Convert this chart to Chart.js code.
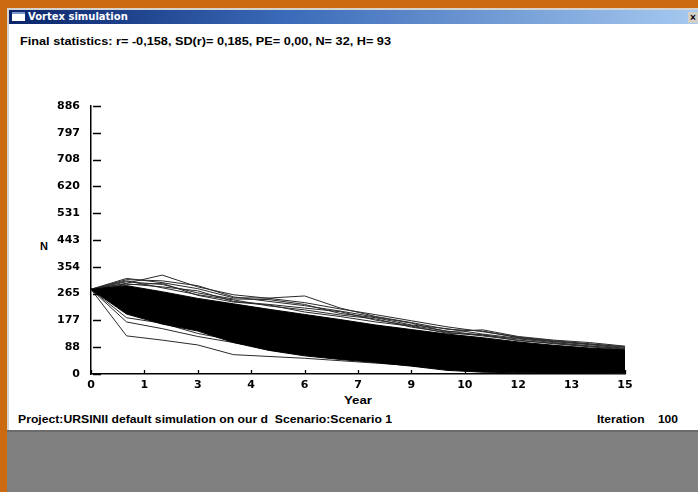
<!DOCTYPE html>
<html>
<head>
<meta charset="utf-8">
<script src="https://cdn.jsdelivr.net/npm/chart.js@4/dist/chart.umd.min.js"></script>
<style>
  html, body { margin:0; padding:0; }
  body { width:698px; height:492px; background:#CC6A12; position:relative; overflow:hidden; font-family:"Liberation Sans", Arial, sans-serif; }
  .abs { position:absolute; white-space:pre; }
  #win { position:absolute; left:7px; top:8px; right:0; height:422px; background:#fff; border-top:2px solid #d6d3ce; border-left:2px solid #d6d3ce; box-sizing:border-box; }
  #titlebar { position:absolute; left:9px; top:10px; right:0; height:14px; background:linear-gradient(to right, #0A246A 0%, #3A6AB8 40%, #A6CAF0 100%); }
  #icon { position:absolute; left:12px; top:12px; width:13px; height:9px; background:#fff; border-top:2px solid #7f98c8; box-sizing:border-box; }
  #ttl { left:28px; top:10px; line-height:14px; color:#fff; font-weight:bold; font-size:10px; font-family:"DejaVu Sans", sans-serif; }
  #close { left:688px; top:12px; width:10px; height:11px; background:#d4d0c8; color:#000; font-weight:bold; font-size:10px; line-height:11px; text-align:center; }
  #bottom { position:absolute; left:7px; top:430px; right:0; bottom:0; background:#808080; border-top:2px solid #6b6b6b; box-sizing:border-box; }
  .bold { font-weight:bold; color:#000; font-size:11px; line-height:12px; transform-origin:0 50%; }
  #c { position:absolute; left:0; top:0; }
</style>
</head>
<body>
<div id="win"></div>
<div id="titlebar"></div>
<div id="icon"></div>
<div id="ttl" class="abs">Vortex simulation</div>
<div id="close" class="abs">×</div>
<div id="stats" class="abs bold" style="left:20px; top:35px;">Final statistics: r= -0,158, SD(r)= 0,185, PE= 0,00, N= 32, H= 93</div>
<div id="ylab" class="abs bold" style="left:40px; top:240px;">N</div>
<div id="xlab" class="abs bold" style="left:344px; top:394px;">Year</div>
<div id="proj" class="abs bold" style="left:18px; top:413px;">Project:URSINII default simulation on our d  Scenario:Scenario 1</div>
<div id="iter" class="abs bold" style="left:597px; top:413px;">Iteration    100</div>
<div id="bottom"></div>
<canvas id="c" width="698" height="492"></canvas>
<script>
// ---- data ----
const years = [0,1,2,3,4,5,6,7,8,9,10,11,12,13,14,15];
const xTickValues = [0,1.5,3,4.5,6,7.5,9,10.5,12,13.5,15];
const xTickLabels = ['0','1','3','4','6','7','9','10','12','13','15'];
const yTickValues = [0,88.6,177.2,265.8,354.4,443,531.6,620.2,708.8,797.4,886];
const yTickLabels = ['0','88','177','265','354','443','531','620','708','797','886'];

// dense envelope of the 100 iterations
const bandUpper = [280,292,272,250,232,214,197,180,162,147,132,120,106,95,86,79];
const bandLower = [280,198,165,142,104,78,60,48,38,26,12,6,4,3,3,3];

// individually visible iteration trajectories
const run01 = [280,300,327,288,262,250,236,215,196,176,156,140,122,110,100,90];
const run02 = [280,316,302,282,252,251,258,218,190,170,148,142,120,108,99,88];
const run03 = [280,312,308,292,255,240,226,208,188,168,140,146,124,112,104,92];
const run04 = [280,305,296,268,248,246,230,200,186,162,150,132,118,107,97,85];
const run05 = [280,298,288,275,240,230,218,206,178,160,142,128,116,104,93,82];
const run06 = [280,308,285,262,245,225,212,195,182,155,138,126,112,100,90,80];
const run07 = [280,295,300,260,238,228,205,190,172,158,135,130,110,102,92,84];
const run08 = [280,126,112,96,64,58,52,44,36,28,18,12,8,6,5,4];
const run09 = [280,172,150,124,104,84,66,54,42,30,20,12,8,6,4,3];
const run10 = [280,186,168,134,112,94,74,62,48,36,24,15,10,7,5,4];
const run11 = [280,205,176,150,120,98,82,66,52,40,28,18,12,9,7,5];
const run12 = [280,215,182,160,130,105,86,70,56,44,32,22,14,10,8,6];
const runs = [run01,run02,run03,run04,run05,run06,run07,run08,run09,run10,run11,run12];

// ---- fit HTML text widths to the reference ----
function fit(id, w) {
  const el = document.getElementById(id);
  const r = el.getBoundingClientRect().width;
  el.style.transform = 'scaleX(' + (w / r) + ')';
}
fit('stats', 371);
fit('proj', 374);
fit('iter', 81);
fit('xlab', 28);

const pts = a => a.map((v,i) => ({x: years[i], y: v}));
const datasets = [
  { data: pts(bandUpper), borderColor:'#000', backgroundColor:'#000', borderWidth:1, fill:'+1' },
  { data: pts(bandLower), borderColor:'#000', borderWidth:1, fill:false }
];
runs.forEach(r => datasets.push({ data: pts(r), borderColor:'#2a2a2a', borderWidth:1, fill:false }));

const tickFont = { family:'"DejaVu Sans", sans-serif', size:11, weight:'bold' };

const tickMarks = {
  id:'tickMarks',
  afterDraw(chart) {
    const {ctx, chartArea, scales:{x, y}} = chart;
    ctx.save();
    ctx.strokeStyle = '#000';
    ctx.lineWidth = 1.3;
    ctx.beginPath();
    y.ticks.forEach(t => {
      const py = Math.round(y.getPixelForValue(t.value)) + 0.5;
      ctx.moveTo(chartArea.left + 2, py);
      ctx.lineTo(chartArea.left + 10, py);
    });
    x.ticks.forEach(t => {
      const px = Math.round(x.getPixelForValue(t.value)) + 0.5;
      ctx.moveTo(px, chartArea.bottom);
      ctx.lineTo(px, chartArea.bottom - 4);
    });
    ctx.stroke();
    ctx.restore();
  }
};

new Chart(document.getElementById('c'), {
  type:'line',
  data:{ datasets },
  options:{
    responsive:false, animation:false,
    layout:{ padding:{ left:0, top:106, right:73, bottom:0 } },
    elements:{ point:{ radius:0 }, line:{ tension:0 } },
    plugins:{ legend:{ display:false }, tooltip:{ enabled:false } },
    scales:{
      x:{
        type:'linear', min:0, max:15,
        afterBuildTicks: s => { s.ticks = xTickValues.map(v => ({value:v})); },
        afterFit: s => { s.height = 118; },
        ticks:{ callback:(v,i) => xTickLabels[i], font:tickFont, color:'#000', padding:5, maxRotation:0, autoSkip:false },
        grid:{ display:false, drawTicks:false },
        border:{ display:true, color:'#000', width:1.5 }
      },
      y:{
        type:'linear', min:0, max:886,
        afterBuildTicks: s => { s.ticks = yTickValues.map(v => ({value:v})); },
        afterFit: s => { s.width = 91; },
        ticks:{ callback:(v,i) => yTickLabels[i], font:tickFont, color:'#000', padding:11, autoSkip:false },
        grid:{ display:false, drawTicks:false },
        border:{ display:true, color:'#000', width:1.5 }
      }
    }
  },
  plugins:[tickMarks]
});
</script>
</body>
</html>
